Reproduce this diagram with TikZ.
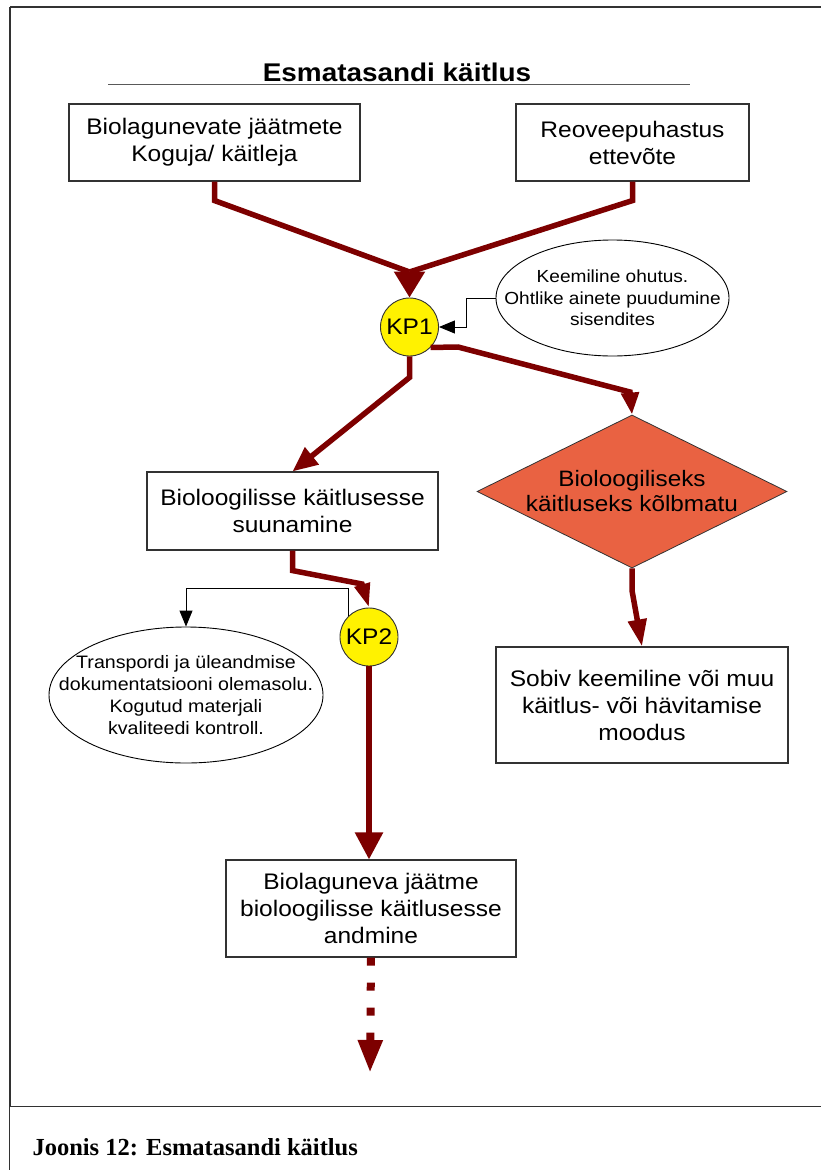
\documentclass[tikz,border=0pt]{standalone}
\usepackage{fontspec}
\setmainfont{Liberation Sans}
\newfontfamily\boxfont[FakeStretch=1.09]{Liberation Sans}
\newfontfamily\capfont{Liberation Serif}
\usetikzlibrary{shapes.geometric,arrows.meta}
\definecolor{dred}{RGB}{125,0,0}
\definecolor{dfill}{RGB}{233,98,66}
\definecolor{frame}{RGB}{50,50,50}
\tikzset{
  boxnode/.style={draw=frame, line width=1.1pt, fill=white, align=center, inner sep=0pt,
    font=\boxfont\fontsize{22.5}{27}\selectfont},
  kpnode/.style={circle, draw=frame, line width=0.9pt, fill=yellow, minimum size=58pt, inner sep=0pt,
    font=\boxfont\fontsize{22.5}{26}\selectfont},
  ellnode/.style={ellipse, draw=black, line width=0.9pt, fill=white, inner sep=0pt},
  elltext/.style={align=center, inner sep=0pt, font=\boxfont\fontsize{17.5}{21.5}\selectfont},
  redline/.style={draw=dred, line width=5.5pt, line join=miter},
  blkarrow/.style={draw=black, line width=0.9pt, -{Triangle[length=16pt,width=13pt]}},
}
\begin{document}
\begin{tikzpicture}[x=1pt,y=-1pt]
\useasboundingbox (0,0) rectangle (821,1170);
% frame
\draw[frame, line width=1.5pt] (10,7) -- (821,7);
\draw[frame, line width=1.5pt] (10,7) -- (10,1106.5);
\draw[frame, line width=1.5pt] (9.5,1106.5) -- (9.5,1170);
\draw[frame, line width=1.5pt] (9.5,1106.5) -- (821,1106.5);
% title
\node[anchor=base, font=\boxfont\bfseries\fontsize{25.6}{30}\selectfont] (title) at (397,81) {Esmatasandi käitlus};
\draw[gray!70!black, line width=1pt] (108,84.5) -- (690,84.5);
% nodes
\node[boxnode, minimum width=291pt, minimum height=77pt] (b1) at (214.5,142.5) {Biolagunevate jäätmete\\Koguja/ käitleja};
\node[boxnode, minimum width=233pt, minimum height=77pt] (b2) at (632.5,142.5) {Reoveepuhastus\\ettevõte};
\node[kpnode] (kp1) at (409.5,327) {KP1};
\node[ellnode, minimum width=233pt, minimum height=116pt] (e1) at (612.5,298) {};
\node[elltext] (e1t) at (e1.center) {Keemiline ohutus.\\Ohtlike ainete puudumine\\sisendites};
\node[boxnode, minimum width=291pt, minimum height=78pt] (b3) at (292.5,511) {Bioloogilisse käitlusesse\\suunamine};
\node[diamond, aspect=2.03, draw=frame, line width=0.8pt, fill=dfill, align=center, inner sep=0pt,
  minimum width=310pt, minimum height=153pt, font=\boxfont\fontsize{22.3}{25}\selectfont] (d) at (632,491.5) {Bioloogiliseks\\käitluseks kõlbmatu};
\node[boxnode, minimum width=292pt, minimum height=116pt] (b4) at (642,705) {Sobiv keemiline või muu\\käitlus- või hävitamise\\moodus};
\node[kpnode] (kp2) at (369,637) {KP2};
\node[ellnode, minimum width=274pt, minimum height=136pt] (e2) at (186,695) {};
\node[elltext, font=\boxfont\fontsize{18}{22}\selectfont] (e2t) at (e2.center) {Transpordi ja üleandmise\\dokumentatsiooni olemasolu.\\Kogutud materjali\\kvaliteedi kontroll.};
\node[boxnode, minimum width=290pt, minimum height=97pt] (b5) at (371,908.5) {Biolaguneva jäätme\\bioloogilisse käitlusesse\\andmine};
% coordinates
\coordinate (j1) at (409.5,272);
\coordinate (c1) at (458,347);
\coordinate (c1b) at (630,392);
\coordinate (c3) at (362,584);
\coordinate (c2) at (186,588);
\coordinate (endarrow) at (370,1073);
% red connectors
\draw[redline] (b1.south) -- ++(0,19) -- (j1);
\draw[redline] (b2.south) -- ++(0,19) -- (j1);
\draw[redline, -{Triangle[length=26pt,width=30pt]}] (j1) -- (kp1.north);
\draw[redline, -{Triangle[length=25pt,width=21pt]}] (kp1.south) -- ++(0,21) -- (b3.north);
\draw[redline, -{Triangle[length=22pt,width=17pt]}] (kp1.-44) -- (c1) -- (c1b) -- (d.north);
\draw[redline, -{Triangle[length=27pt,width=18pt]}] (d.south) -- ++(0,22) -- (b4.north);
\draw[redline, -{Triangle[length=24pt,width=15pt]}] (b3.south) -- ++(0,20) -- (c3) -- (kp2.north);
\draw[redline, -{Triangle[length=27pt,width=27pt]}] (kp2.south) -- (kp2.south |- b5.north);
\draw[draw=dred, line width=8pt, dash pattern=on 8pt off 17pt, -{Triangle[length=33pt,width=23pt]}] (b5.south) -- (endarrow);
% black connectors
\draw[blkarrow] (e1.west) -- ++(-29,0) |- (kp1.east);
\draw[blkarrow] (kp2.134) |- (c2) -- (e2.north);
% caption
\node[anchor=base west, font=\capfont\bfseries\fontsize{24.5}{28}\selectfont] (cap) at (29,1155) {Joonis 12: Esmatasandi käitlus};
\end{tikzpicture}
\end{document}
